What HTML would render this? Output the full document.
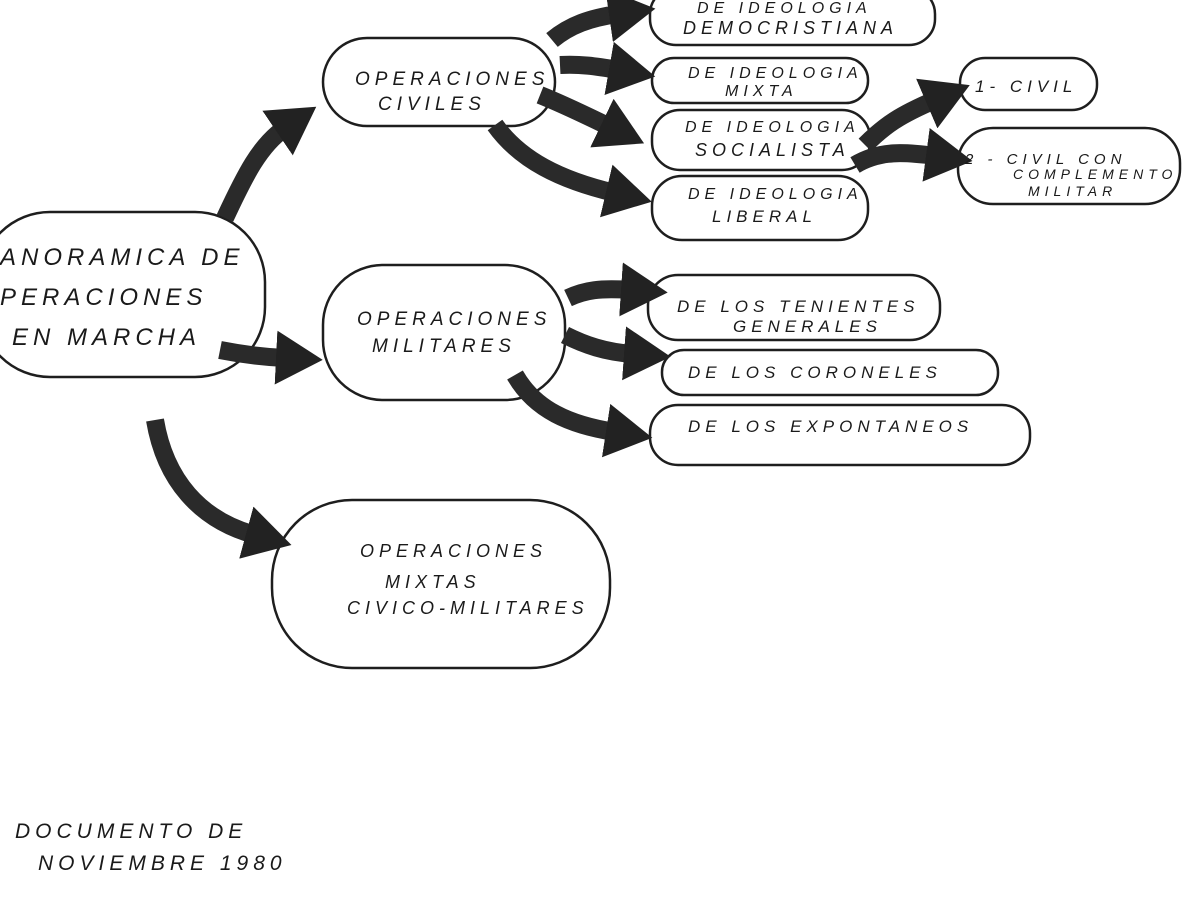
<!DOCTYPE html>
<html><head><meta charset="utf-8"><style>
html,body{margin:0;padding:0;background:#fff;}
svg{display:block}
text{font-family:"Liberation Sans",sans-serif;font-style:italic;fill:#1a1a1a;letter-spacing:5px;}
.c{fill:none;stroke:#1e1e1e;stroke-width:2.5;}
.a{fill:none;stroke:#2a2a2a;stroke-width:18;stroke-linecap:butt;}
</style></head><body>
<svg width="1200" height="900" viewBox="0 0 1200 900">
<defs>
<marker id="h" markerWidth="2.6" markerHeight="3" refX="0.5" refY="1.5" orient="auto" markerUnits="strokeWidth">
<path d="M0,0 L2.6,1.5 L0,3 Z" fill="#222"/>
</marker>
</defs>
<rect class="c" x="-20" y="212" width="285" height="165" rx="70"/>
<rect class="c" x="323" y="38" width="232" height="88" rx="44"/>
<rect class="c" x="323" y="265" width="242" height="135" rx="60"/>
<rect class="c" x="272" y="500" width="338" height="168" rx="80"/>
<rect class="c" x="650" y="-12" width="285" height="57" rx="26"/>
<rect class="c" x="652" y="58" width="216" height="45" rx="22"/>
<rect class="c" x="652" y="110" width="218" height="60" rx="28"/>
<rect class="c" x="652" y="176" width="216" height="64" rx="30"/>
<rect class="c" x="960" y="58" width="137" height="52" rx="25"/>
<rect class="c" x="958" y="128" width="222" height="76" rx="35"/>
<rect class="c" x="648" y="275" width="292" height="65" rx="30"/>
<rect class="c" x="662" y="350" width="336" height="45" rx="22"/>
<rect class="c" x="650" y="405" width="380" height="60" rx="28"/>
<path class="a" marker-end="url(#h)" d="M225,218 C245,175 260,145 285,128"/>
<path class="a" marker-end="url(#h)" d="M220,350 C245,355 265,357 285,358"/>
<path class="a" marker-end="url(#h)" d="M155,420 C165,480 200,520 255,535"/>
<path class="a" marker-end="url(#h)" d="M552,40 C570,25 590,18 618,14"/>
<path class="a" marker-end="url(#h)" d="M560,65 C580,64 595,66 618,70"/>
<path class="a" marker-end="url(#h)" d="M540,95 C565,105 585,115 610,127"/>
<path class="a" marker-end="url(#h)" d="M495,125 C520,160 560,180 615,193"/>
<path class="a" marker-end="url(#h)" d="M865,145 C885,125 900,115 935,100"/>
<path class="a" marker-end="url(#h)" d="M855,165 C880,150 905,152 935,156"/>
<path class="a" marker-end="url(#h)" d="M568,298 C585,290 600,288 630,290"/>
<path class="a" marker-end="url(#h)" d="M565,335 C585,345 605,352 633,354"/>
<path class="a" marker-end="url(#h)" d="M515,375 C535,410 570,425 615,432"/>
<text x="0" y="265" font-size="24">ANORAMICA DE</text>
<text x="0" y="305" font-size="24">PERACIONES</text>
<text x="12" y="345" font-size="24">EN MARCHA</text>
<text x="355" y="85" font-size="19">OPERACIONES</text>
<text x="378" y="110" font-size="19">CIVILES</text>
<text x="357" y="325" font-size="19">OPERACIONES</text>
<text x="372" y="352" font-size="19">MILITARES</text>
<text x="360" y="557" font-size="18">OPERACIONES</text>
<text x="385" y="588" font-size="18">MIXTAS</text>
<text x="347" y="614" font-size="18" letter-spacing="2">CIVICO-MILITARES</text>
<text x="697" y="13" font-size="16">DE IDEOLOGIA</text>
<text x="683" y="34" font-size="18" letter-spacing="3">DEMOCRISTIANA</text>
<text x="688" y="78" font-size="16" letter-spacing="3">DE IDEOLOGIA</text>
<text x="725" y="96" font-size="16">MIXTA</text>
<text x="685" y="132" font-size="16" letter-spacing="3">DE IDEOLOGIA</text>
<text x="695" y="156" font-size="18" letter-spacing="3">SOCIALISTA</text>
<text x="688" y="199" font-size="16" letter-spacing="3">DE IDEOLOGIA</text>
<text x="712" y="222" font-size="17">LIBERAL</text>
<text x="975" y="92" font-size="17" letter-spacing="3">1- CIVIL</text>
<text x="965" y="164" font-size="15" letter-spacing="3">2 - CIVIL CON</text>
<text x="1013" y="179" font-size="14" letter-spacing="1">COMPLEMENTO</text>
<text x="1028" y="196" font-size="14" letter-spacing="2">MILITAR</text>
<text x="677" y="312" font-size="17" letter-spacing="3">DE LOS TENIENTES</text>
<text x="733" y="332" font-size="17" letter-spacing="3">GENERALES</text>
<text x="688" y="378" font-size="17" letter-spacing="6">DE LOS CORONELES</text>
<text x="688" y="432" font-size="17" letter-spacing="6">DE LOS EXPONTANEOS</text>
<text x="15" y="838" font-size="21" letter-spacing="5">DOCUMENTO DE</text>
<text x="38" y="870" font-size="21" letter-spacing="5">NOVIEMBRE 1980</text>
</svg>
</body></html>
